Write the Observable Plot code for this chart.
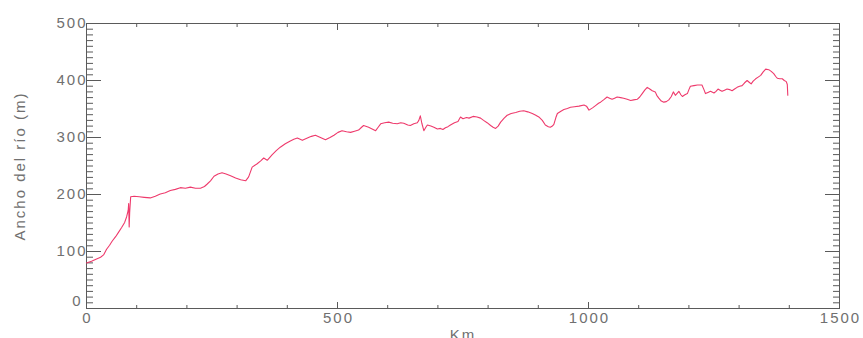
<!DOCTYPE html>
<html>
<head>
<meta charset="utf-8">
<script src="https://cdn.jsdelivr.net/npm/d3@7"></script>
<script src="https://cdn.jsdelivr.net/npm/@observablehq/plot@0.6"></script>
<style>
  html, body { margin: 0; padding: 0; background: #fff; overflow: hidden; }
  #chart svg text { letter-spacing: 2px; }
</style>
</head>
<body>
<div id="chart"></div>
<script>
// Distance along the river (km)
const km = [
  0, 10, 20, 28, 34, 40, 46, 51, 58, 64, 70, 76, 80, 83, 84, 85, 86, 88,
  95, 105, 115, 127, 137, 147, 157, 167, 177, 187, 197, 207, 217, 227, 235, 240,
  247, 254, 262, 270, 278, 287, 297, 307, 317, 323, 330, 340, 347, 353, 360, 370,
  378, 386, 396, 406, 413, 420, 430, 440, 448, 456, 466, 476, 485, 493, 501, 509,
  518, 526, 534, 542, 548, 552, 562, 569, 576, 581, 586, 594, 602, 610, 619, 626,
  632, 640, 645, 652, 659, 662, 665, 668, 672, 676, 679, 686, 692, 699, 705, 710,
  715, 720, 725, 733, 740, 745, 750, 757, 762, 770, 778, 785, 791, 798, 805, 810,
  815, 820, 825, 832, 838, 846, 855, 863, 871, 879, 888, 895, 901, 908, 914, 920,
  924, 928, 931, 935, 938, 945, 951, 958, 964, 972, 981, 991, 996, 1001, 1008, 1014,
  1020, 1024, 1030, 1037, 1042, 1047, 1052, 1057, 1064, 1070, 1077, 1084, 1090, 1097, 1102, 1107,
  1112, 1117, 1122, 1127, 1133, 1136, 1140, 1145, 1150, 1155, 1160, 1165, 1169, 1173, 1177, 1180,
  1184, 1187, 1192, 1197, 1200, 1203, 1210, 1217, 1222, 1226, 1230, 1233, 1238, 1243, 1250, 1254,
  1258, 1262, 1266, 1271, 1276, 1281, 1286, 1291, 1296, 1301, 1306, 1311, 1316, 1320, 1324, 1328,
  1333, 1338, 1343, 1348, 1353, 1359, 1364, 1369, 1373, 1376, 1381, 1386, 1390, 1394, 1396, 1397
];
// River width (m)
const ancho = [
  80, 83, 87, 90, 94, 104, 111, 118, 126, 134, 142, 151, 161, 172, 184, 143, 168, 196,
  197, 196, 195, 194, 197, 201, 203, 207, 209, 212, 211, 213, 211, 211, 214, 218,
  224, 232, 236, 238, 236, 233, 229, 226, 224, 231, 248, 254, 259, 264, 260, 270,
  277, 283, 289, 294, 297, 299, 295, 299, 302, 304, 300, 296, 300, 304, 309, 312,
  310, 309, 311, 313, 318, 321, 318, 315, 312, 318, 324, 326, 327, 325, 324, 326,
  325, 322, 321, 324, 326, 330, 338, 325, 312, 318, 322, 320, 318, 315, 316, 314,
  317, 319, 322, 326, 328, 336, 333, 335, 334, 337, 336, 334, 330, 326, 321, 318,
  316, 320, 327, 334, 339, 342, 344, 346, 347, 345, 342, 339, 336, 330, 322, 319,
  318, 320, 323, 335, 342, 346, 349, 351, 353, 354, 355, 357, 355, 348, 352, 356,
  360, 362, 366, 371, 369, 367, 369, 371, 370, 369, 367, 365, 366, 367, 371, 377,
  383, 388, 385, 382, 380, 374, 369, 364, 362, 363, 366, 372, 380, 374, 378, 381,
  375, 372, 375, 377, 384, 390, 391, 392, 392, 392, 384, 377, 379, 381, 378, 381,
  385, 383, 381, 383, 385, 384, 382, 385, 388, 390, 391, 396, 400, 397, 394, 399,
  403, 406, 409, 415, 420, 419, 416, 412, 407, 404, 403, 403, 400, 398, 393, 374
];

// Axis ticks and labels
const xMajorTicks = [0, 500, 1000, 1500];
const xMinorTicks = [0, 100, 200, 300, 400, 500, 600, 700, 800, 900, 1000, 1100, 1200, 1300, 1400, 1500];
const yMajorTicks = [0, 100, 200, 300, 400, 500];
const yLabelTicks = [100, 200, 300, 400, 500];
const yZeroTick = [0];
const yMinorTicks = d3.range(0, 501, 10);
const xLabel = "Km";
const yLabel = "Ancho del río (m)";

const data = km.map((k, i) => ({km: k, ancho: ancho[i]}));

const axisColor = "#5a5a5a";
const textColor = "#707070";
const noText = () => "";
const plain = d => String(d);

const marks = [];
// inward ticks on bottom and top
for (const anchor of ["bottom", "top"]) {
  const inset = anchor === "bottom" ? {insetBottom: 3} : {insetTop: 3};
  const insetM = anchor === "bottom" ? {insetBottom: 6} : {insetTop: 6};
  marks.push(Plot.axisX({anchor, ticks: xMinorTicks, tickSize: 3, ...inset, tickFormat: noText, stroke: axisColor, label: null}));
  marks.push(Plot.axisX({anchor, ticks: xMajorTicks, tickSize: 6, ...insetM, tickFormat: noText, stroke: axisColor, label: null}));
}
// inward ticks on left and right
for (const anchor of ["left", "right"]) {
  const inset = anchor === "left" ? {insetLeft: 7} : {insetRight: 7};
  const insetM = anchor === "left" ? {insetLeft: 15} : {insetRight: 15};
  marks.push(Plot.axisY({anchor, ticks: yMinorTicks, tickSize: 7, ...inset, tickFormat: noText, stroke: axisColor, label: null}));
  marks.push(Plot.axisY({anchor, ticks: yMajorTicks, tickSize: 15, ...insetM, tickFormat: noText, stroke: axisColor, label: null}));
}
// labels
marks.push(Plot.axisX({anchor: "bottom", ticks: xMajorTicks, tickSize: 0, tickPadding: 4, fill: textColor,
  fontSize: 15, tickFormat: plain, dx: 1, label: xLabel, labelAnchor: "center", labelArrow: "none", labelOffset: 31}));
marks.push(Plot.axisY({anchor: "left", ticks: yLabelTicks, tickSize: 0, tickPadding: -1, fill: textColor,
  fontSize: 15, tickFormat: plain, label: yLabel, labelAnchor: "center", labelArrow: "none", labelOffset: 72}));
marks.push(Plot.axisY({anchor: "left", ticks: yZeroTick, tickSize: 0, tickPadding: 4, dy: -7, fill: textColor,
  fontSize: 15, tickFormat: plain, label: null}));
marks.push(Plot.frame({stroke: axisColor, strokeWidth: 1}));
marks.push(Plot.line(data, {x: "km", y: "ancho", stroke: "#ee3a6c", strokeWidth: 1.1}));

const chart = Plot.plot({
  width: 863,
  height: 338,
  marginLeft: 86,
  marginRight: 24,
  marginTop: 23,
  marginBottom: 30,
  style: {fontFamily: "'Liberation Sans', Arial, sans-serif", fontSize: "15px", color: textColor, background: "#fff"},
  x: {domain: [0, 1500], label: null},
  y: {domain: [0, 500], label: null},
  marks
});
document.getElementById("chart").appendChild(chart);
</script>
</body>
</html>
